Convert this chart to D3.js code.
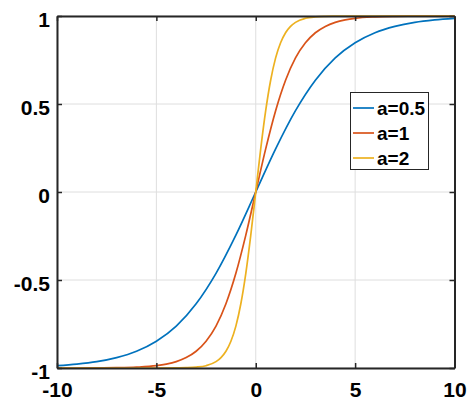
<!DOCTYPE html>
<html><head><meta charset="utf-8">
<script src="https://cdn.jsdelivr.net/npm/d3@7/dist/d3.min.js"></script>
<style>body{margin:0;background:#fff}svg{display:block}</style>
</head><body>
<svg id="c" width="469" height="404"></svg>
<script>
// Data
const seriesNames = ["a=0.5", "a=1", "a=2"];
const xTicks = [-10, -5, 0, 5, 10];
const yTicks = [-1, -0.5, 0, 0.5, 1];
const xTickLabels = ["-10", "-5", "0", "5", "10"];
const yTickLabels = ["-1", "-0.5", "0", "0.5", "1"];

const xBlue = [-10,-9,-8,-7,-6,-5,-4,-3,-2,-1,0,1,2,3,4,5,6,7,8,9,10];
const yBlue = [-0.987,-0.978,-0.964,-0.941,-0.905,-0.848,-0.762,-0.635,-0.462,-0.245,0,0.245,0.462,0.635,0.762,0.848,0.905,0.941,0.964,0.978,0.987];

const xRed = [-10,-9,-8,-7,-6,-5,-4.5,-4,-3.5,-3,-2.5,-2,-1.5,-1,-0.5,0,0.5,1,1.5,2,2.5,3,3.5,4,4.5,5,6,7,8,9,10];
const yRed = [-1,-1,-0.999,-0.998,-0.995,-0.987,-0.978,-0.964,-0.941,-0.905,-0.848,-0.762,-0.635,-0.462,-0.245,0,0.245,0.462,0.635,0.762,0.848,0.905,0.941,0.964,0.978,0.987,0.995,0.998,0.999,1,1];

const xYellow = [-10,-9,-8,-7,-6,-5,-4,-3.5,-3,-2.5,-2,-1.75,-1.5,-1.25,-1,-0.75,-0.5,-0.25,0,0.25,0.5,0.75,1,1.25,1.5,1.75,2,2.5,3,3.5,4,5,6,7,8,9,10];
const yYellow = [-1,-1,-1,-1,-1,-1,-0.999,-0.998,-0.995,-0.987,-0.964,-0.941,-0.905,-0.848,-0.762,-0.635,-0.462,-0.245,0,0.245,0.462,0.635,0.762,0.848,0.905,0.941,0.964,0.987,0.995,0.998,0.999,1,1,1,1,1,1];

const colors = ["#0072BD", "#D95319", "#EDB120"];
const seriesX = [xBlue, xRed, xYellow];
const seriesY = [yBlue, yRed, yYellow];

const svg = d3.select("#c");
const L = 57, R = 454.5, T = 16, B = 368;
const x = d3.scaleLinear().domain([-10, 10]).range([L, R]);
const y = d3.scaleLinear().domain([-1, 1]).range([B, T]);
const axisColor = "#262626";
const font = "'Liberation Sans', Arial, sans-serif";

// grid
svg.append("g").selectAll("line").data(xTicks).join("line")
  .attr("x1", d => x(d)).attr("x2", d => x(d)).attr("y1", T).attr("y2", B)
  .attr("stroke", "#dedede").attr("stroke-width", 1);
svg.append("g").selectAll("line").data(yTicks).join("line")
  .attr("y1", d => y(d)).attr("y2", d => y(d)).attr("x1", L).attr("x2", R)
  .attr("stroke", "#dedede").attr("stroke-width", 1);

// curves
const line = d3.line().curve(d3.curveMonotoneX);
seriesX.forEach((xs, i) => {
  const pts = xs.map((v, j) => [x(v), y(seriesY[i][j])]);
  svg.append("path").attr("d", line(pts)).attr("fill", "none")
    .attr("stroke", colors[i]).attr("stroke-width", 1.7);
});

// axes (inward ticks on all sides)
const tickLen = 5;
const axB = d3.axisBottom(x).tickValues(xTicks).tickSizeInner(-tickLen).tickSizeOuter(0).tickFormat((d, i) => xTickLabels[i]);
const axL = d3.axisLeft(y).tickValues(yTicks).tickSizeInner(-tickLen).tickSizeOuter(0).tickFormat((d, i) => yTickLabels[i]).tickPadding(7);
const axT = d3.axisTop(x).tickValues(xTicks).tickSizeInner(-tickLen).tickSizeOuter(0).tickFormat("");
const axR = d3.axisRight(y).tickValues(yTicks).tickSizeInner(-tickLen).tickSizeOuter(0).tickFormat("");

function style(g) {
  g.select(".domain").attr("stroke", axisColor).attr("stroke-width", 2);
  g.selectAll(".tick line").attr("stroke", axisColor).attr("stroke-width", 1.5);
  g.selectAll(".tick text").attr("fill", "#000").attr("font-family", font)
    .attr("font-weight", "bold").attr("font-size", 21);
}
svg.append("g").attr("transform", `translate(0,${B})`).call(axB).call(style)
  .selectAll(".tick text").attr("dy", "0").attr("y", 29);
svg.append("g").attr("transform", `translate(${L},0)`).call(axL).call(style)
  .selectAll(".tick text").attr("dy", "0.5em");
svg.append("g").attr("transform", `translate(0,${T})`).call(axT).call(style);
svg.append("g").attr("transform", `translate(${R},0)`).call(axR).call(style);

// legend
const lg = svg.append("g");
lg.append("rect").attr("x", 350.5).attr("y", 92.5).attr("width", 78).attr("height", 77)
  .attr("fill", "#fff").attr("stroke", axisColor).attr("stroke-width", 1);
seriesNames.forEach((n, i) => {
  const yy = 108 + i * 25;
  lg.append("line").attr("x1", 353).attr("x2", 374).attr("y1", yy).attr("y2", yy)
    .attr("stroke", colors[i]).attr("stroke-width", 1.7);
  lg.append("text").attr("x", 377).attr("y", yy).attr("dy", "0.36em")
    .attr("font-family", font).attr("font-weight", "bold").attr("font-size", 19)
    .attr("fill", "#000").text(n);
});
</script>
</body></html>
